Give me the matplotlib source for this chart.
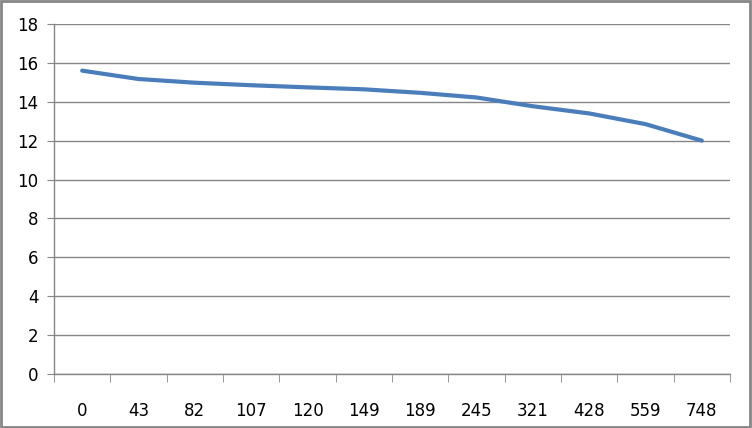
import numpy as np
import matplotlib
matplotlib.use('Agg')
import matplotlib.pyplot as plt
from matplotlib.ticker import FixedLocator

categories = ['0', '43', '82', '107', '120', '149', '189', '245', '321', '428', '559', '748']
values = [15.6, 15.17, 14.98, 14.85, 14.74, 14.64, 14.46, 14.22, 13.77, 13.4, 12.85, 12.0]

fig = plt.figure(figsize=(7.52, 4.28), dpi=100)
ax = fig.add_axes([0.0718, 0.126, 0.899, 0.818])

x = np.arange(len(categories))
ax.plot(x, values, color='#4a7ebb', linewidth=3, solid_capstyle='round')

ax.set_xlim(-0.5, len(categories) - 0.5)
ax.set_ylim(0, 18)
ax.set_yticks(np.arange(0, 19, 2))
ax.set_xticks(x)
ax.set_xticklabels(categories)
ax.xaxis.set_minor_locator(FixedLocator(np.arange(-0.5, len(categories), 1)))

ax.grid(axis='y', color='#868686', linewidth=1)
ax.set_axisbelow(True)
for s in ['top', 'right']:
    ax.spines[s].set_visible(False)
for s in ['left', 'bottom']:
    ax.spines[s].set_color('#868686')
    ax.spines[s].set_linewidth(1)

ax.tick_params(axis='x', which='major', length=0, pad=20, labelsize=12)
ax.tick_params(axis='x', which='minor', length=6, color='#868686')
ax.tick_params(axis='y', length=5, color='#868686', labelsize=12, pad=6)

fig.patches.append(plt.Rectangle((0.001, 0.002), 0.997, 0.995, transform=fig.transFigure,
                                 fill=False, edgecolor='#868686', linewidth=2))

fig.savefig('out.png', dpi=100)
